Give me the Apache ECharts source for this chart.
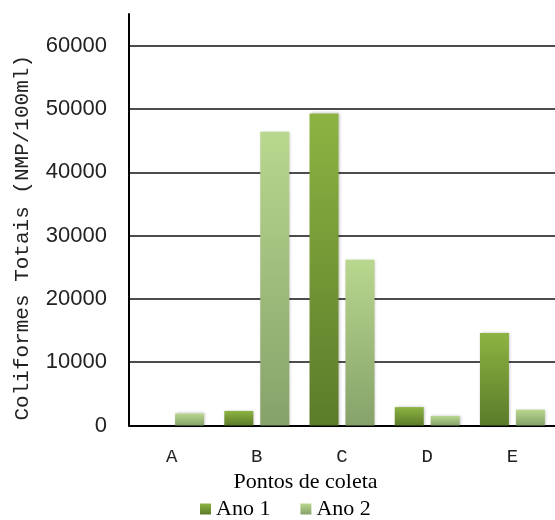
<!DOCTYPE html>
<html>
<head>
<meta charset="utf-8">
<script src="https://cdn.jsdelivr.net/npm/echarts@6/dist/echarts.min.js"></script>
<style>
  html, body { margin: 0; padding: 0; background: #fff; }
  #chart { width: 555px; height: 520px; }
</style>
</head>
<body>
<div id="chart"></div>
<script>
// Sampling points and total coliform counts (NMP/100ml) per year
const pontos = ['A', 'B', 'C', 'D', 'E'];
const ano1 = [0, 2300, 49300, 2900, 14600];
const ano2 = [1900, 46400, 26200, 1500, 2500];
const serieNomes = ['Ano 1', 'Ano 2'];

const chart = echarts.init(document.getElementById('chart'), null, { renderer: 'canvas' });

function grad(top, bottom) {
  return new echarts.graphic.LinearGradient(0, 0, 0, 1, [
    { offset: 0, color: top },
    { offset: 1, color: bottom }
  ]);
}

const barShadow = {
  shadowBlur: 3,
  shadowColor: 'rgba(0,0,0,0.25)',
  shadowOffsetX: 1,
  shadowOffsetY: 0
};

chart.setOption({
  animation: false,
  backgroundColor: '#ffffff',
  grid: { left: 129, top: 14, width: 429, bottom: 94.5, containLabel: false },
  legend: {
    data: serieNomes,
    left: 195,
    top: 493,
    itemWidth: 11,
    itemHeight: 11,
    itemGap: 30,
    icon: 'rect',
    textStyle: { fontFamily: 'Liberation Serif', fontSize: 22, color: '#000' }
  },
  xAxis: {
    type: 'category',
    data: pontos,
    name: 'Pontos de coleta',
    nameLocation: 'middle',
    nameGap: 43,
    nameTextStyle: { fontFamily: 'Liberation Serif', fontSize: 22, color: '#000', padding: [0, 73, 0, 0] },
    axisLine: { show: true, lineStyle: { color: '#000', width: 2 } },
    axisTick: { show: false },
    axisLabel: { fontFamily: 'Liberation Mono', fontSize: 19, color: '#222', margin: 22 },
    splitLine: { show: false }
  },
  yAxis: {
    type: 'value',
    min: 0,
    max: 65000,
    interval: 10000,
    name: 'Coliformes Totais (NMP/100ml)',
    nameLocation: 'middle',
    nameGap: 96,
    nameRotate: 90,
    nameTextStyle: { fontFamily: 'Liberation Mono', fontSize: 21, color: '#222', padding: [0, 36, 0, 0] },
    axisLine: { show: true, lineStyle: { color: '#000', width: 2 } },
    axisTick: { show: false },
    axisLabel: {
      fontFamily: 'Liberation Sans', fontSize: 22, color: '#222', margin: 22, showMaxLabel: false,
      formatter: function (v) { return String(v); }
    },
    splitLine: { show: true, showMinLine: false, showMaxLine: false, lineStyle: { color: '#111', width: 1.5 } }
  },
  series: [
    {
      name: serieNomes[0],
      type: 'bar',
      data: ano1,
      barWidth: 29,
      barGap: '24%',
      itemStyle: Object.assign({ color: grad('#8db342', '#5c7b2a') }, barShadow)
    },
    {
      name: serieNomes[1],
      type: 'bar',
      data: ano2,
      barWidth: 29,
      barGap: '24%',
      itemStyle: Object.assign({ color: grad('#b9d78e', '#86a26a') }, barShadow)
    }
  ]
});
</script>
</body>
</html>
